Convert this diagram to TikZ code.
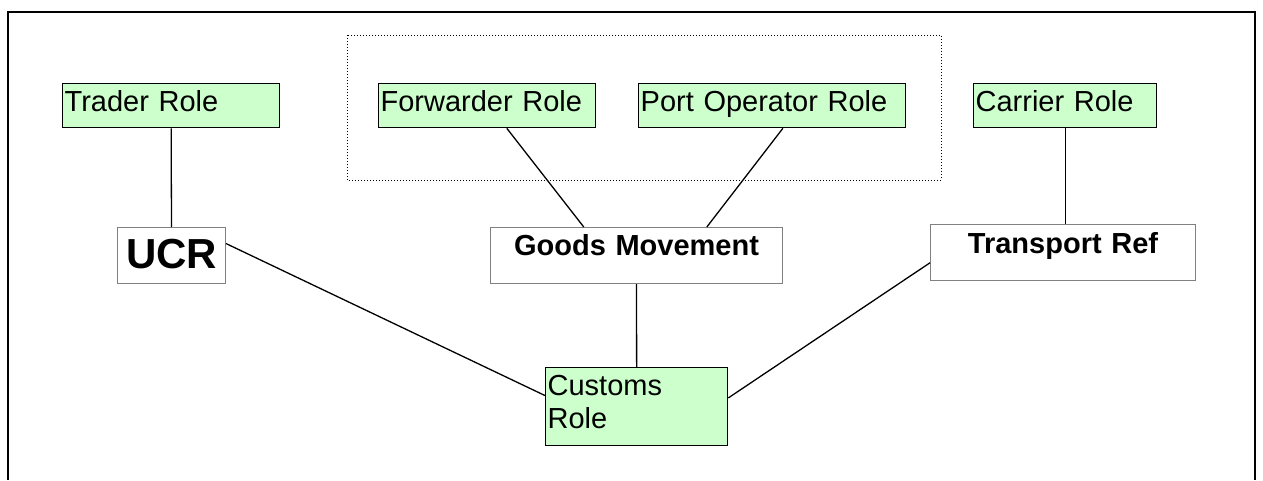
\documentclass[tikz,border=0pt]{standalone}
\usepackage{fontspec}
\setmainfont{Liberation Sans}
\usetikzlibrary{positioning}
\usetikzlibrary{calc}

\begin{document}
\begin{tikzpicture}[x=1pt, y=-1pt,
	role/.style={draw=black, line width=1.3pt, fill=lgreen, anchor=north west, inner xsep=2pt, inner ysep=0pt, align=left, font=\fontsize{29}{33}\selectfont, text height=28pt, text depth=16pt},
	refbox/.style={draw=gray, line width=1pt, fill=white, anchor=north west, inner xsep=2pt, inner ysep=0pt, align=center, font=\bfseries\fontsize{29}{33}\selectfont},
	link/.style={line width=1.3pt}]
		% Roles and references around the customs role

% Colors

\definecolor{lgreen}{rgb}{0.8,1,0.8}

\useasboundingbox (0,0) rectangle (1263,480);

% Outline
\coordinate (f1) at (8,480);
\coordinate (f2) at (8,12);
\coordinate (f3) at (1255,12);
\coordinate (f4) at (1255,480);
\coordinate (g1) at (347,35);
\coordinate (g2) at (941,180);

\draw[line width=2pt] (f1)--(f2)--(f3)--(f4);

% Group
\draw[dotted, line width=1pt] (g1) rectangle (g2);

% Nodes
\node[role, text width=213pt] (trader) at (62,83) {Trader Role};
\node[role, text width=213pt] (fwd) at (378,83) {Forwarder Role};
\node[role, text width=263pt] (portop) at (638,83) {Port Operator Role};
\node[role, text width=179pt] (carrier) at (973,83) {Carrier Role};

\node[refbox, text width=104pt, font=\bfseries\fontsize{42}{46}\selectfont, text height=41pt, text depth=15pt] (ucr) at (117,227) {UCR};
\node[refbox, text width=288pt, text height=28pt, text depth=28pt] (goods) at (490,227) {Goods Movement};
\node[refbox, text width=261pt, text height=29pt, text depth=27pt] (transport) at (930,224) {Transport Ref};

\node[role, text width=178pt, text depth=50pt] (customs) at (545,367) {Customs\\Role};

% Connections
\draw[link] (trader.south) -- (ucr.north);
\draw[link] ($(fwd.south west)!0.59!(fwd.south east)$) -- ($(goods.north west)!0.32!(goods.north east)$);
\draw[link] ($(portop.south west)!0.54!(portop.south east)$) -- ($(goods.north west)!0.74!(goods.north east)$);
\draw[link] (carrier.south) -- (carrier.south |- transport.north);

\draw[link] ($(ucr.north east)!0.29!(ucr.south east)$) -- ($(customs.north west)!0.36!(customs.south west)$);
\draw[link] (goods.south) -- (customs.north);
\draw[link] ($(transport.north west)!0.68!(transport.south west)$) -- ($(customs.north east)!0.39!(customs.south east)$);
	\end{tikzpicture}
\end{document}
